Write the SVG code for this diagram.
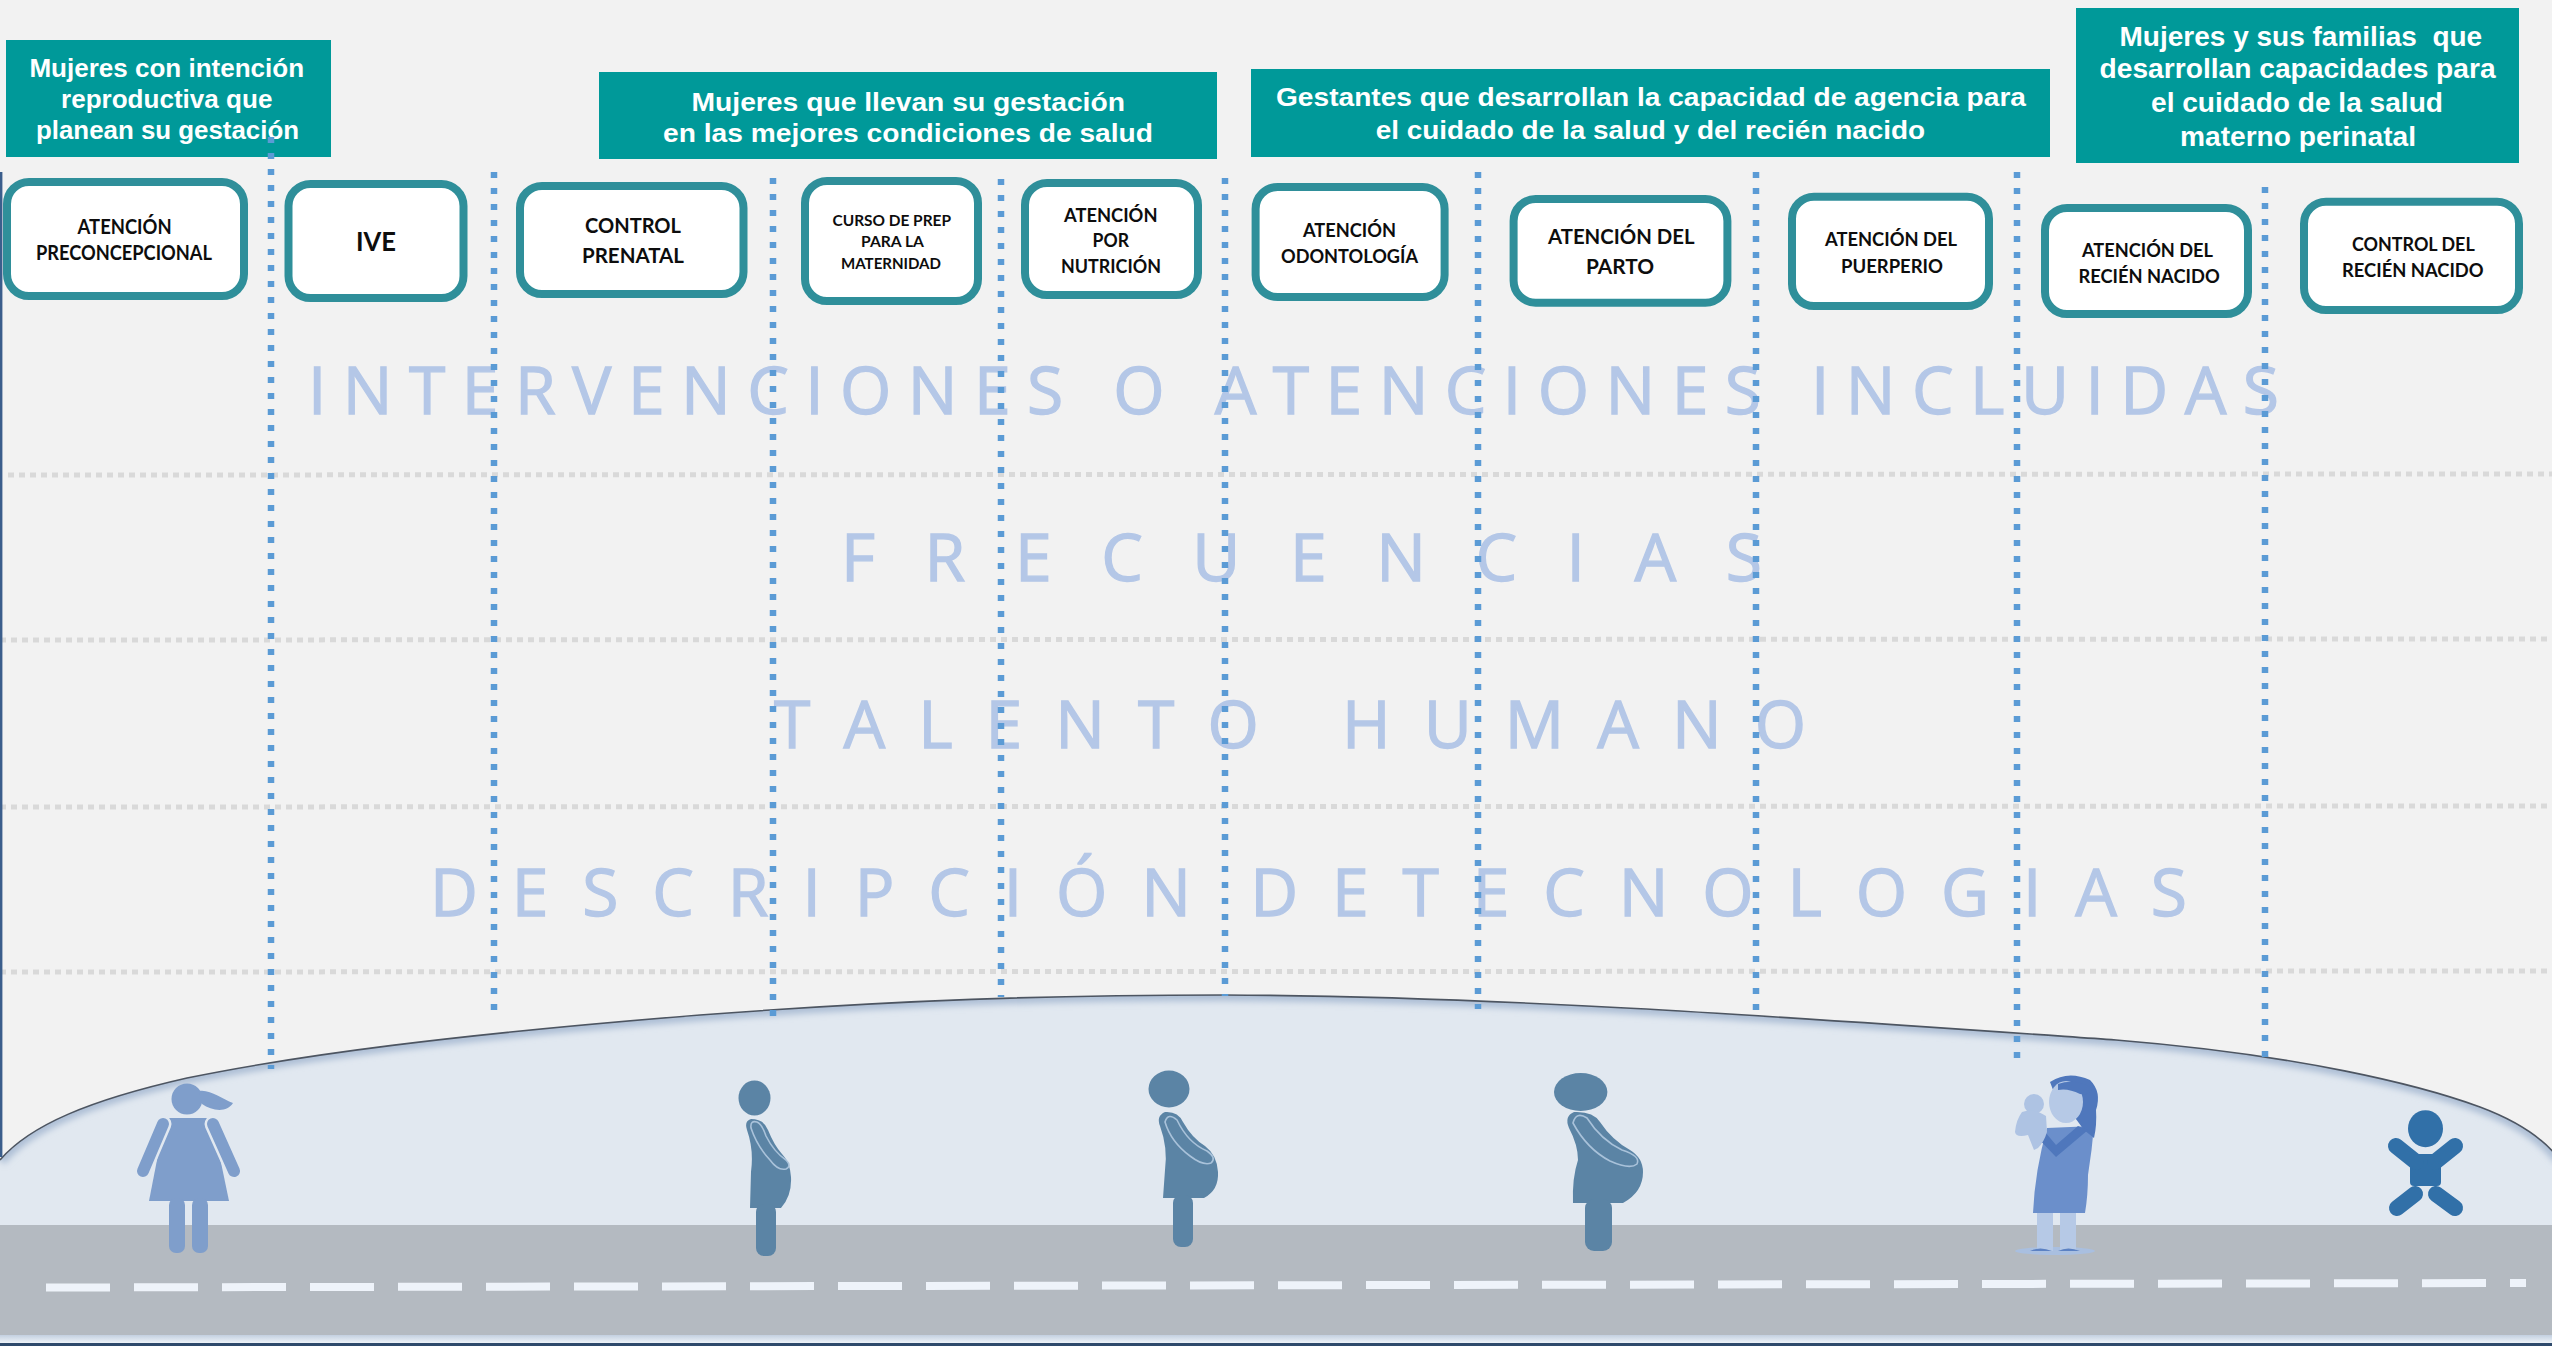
<svg xmlns="http://www.w3.org/2000/svg" width="2552" height="1346" viewBox="0 0 2552 1346">
  <style>
    .hdr { fill: #009999; }
    .hdr-t { font-family: "Liberation Sans", Arial, sans-serif; font-weight: bold; fill: #ffffff; white-space: pre; }
    .box { fill: #ffffff; stroke: #2f8f9a; stroke-width: 8; }
    .box-t { font-family: Lato, "Open Sans", "Liberation Sans", sans-serif; font-weight: bold; fill: #0d0d0d; }
    .wm { font-family: "Open Sans", "Liberation Sans", sans-serif; font-size: 66px; fill: #b4c7e7; stroke: #b4c7e7; stroke-width: 1.3; white-space: pre; }
    .vline { stroke: #5b9bd5; stroke-width: 6.5; stroke-dasharray: 6 10; fill: none; }
    .hline { stroke: #d9d9d9; stroke-width: 5; stroke-dasharray: 6 5; fill: none; }
    .fig-girl { fill: #7f9ecb; }
    .fig-preg { fill: #5b84a5; }
    .arm-line { fill: none; stroke: #a9c2da; stroke-width: 1.6; }
  </style>
  <defs>
    <clipPath id="moundClip">
      <path d="M0,1160 C30,1125 90,1100 187,1078 C300,1055 450,1035 700,1015 C900,1000 1050,995 1224,995 C1500,996 1800,1018 2116,1040 C2300,1055 2420,1085 2480,1107 C2520,1122 2545,1140 2560,1160 L2560,1346 L0,1346 Z"/>
    </clipPath>
    <filter id="soft" x="-5%" y="-50%" width="110%" height="200%">
      <feGaussianBlur stdDeviation="3"/>
    </filter>
    <linearGradient id="roadEdge" x1="0" y1="0" x2="0" y2="1">
      <stop offset="0" stop-color="#c3d0e0"/>
      <stop offset="1" stop-color="#eef3f9"/>
    </linearGradient>
  </defs>

  <!-- page background -->
  <rect x="0" y="0" width="2552" height="1346" fill="#f2f2f2"/>

  <!-- row separators -->
  <g id="rows">
    <line class="hline" x1="8" y1="475" x2="2552" y2="474"/>
    <line class="hline" x1="0" y1="640" x2="2552" y2="639"/>
    <line class="hline" x1="0" y1="807" x2="2552" y2="806"/>
    <line class="hline" x1="0" y1="972" x2="2552" y2="971"/>
  </g>

  <!-- row titles -->
  <g id="row-titles">
    <text class="wm" x="308" y="414" textLength="1971" lengthAdjust="spacing">INTERVENCIONES O ATENCIONES INCLUIDAS</text>
    <text class="wm" x="841" y="581" textLength="921" lengthAdjust="spacing">F R E C U E N C I A S</text>
    <text class="wm" x="774" y="748" textLength="1032" lengthAdjust="spacing">T A L E N T O   H U M A N O</text>
    <text class="wm" x="430" y="916" textLength="1757" lengthAdjust="spacing">D E S C R I P C I Ó N  D E T E C N O L O G I A S</text>
  </g>

  <!-- stage headers -->
  <g id="hdr-intencion">
    <rect class="hdr" x="6" y="40" width="325" height="117"/>
    <text class="hdr-t" font-size="25" x="29.4" y="77.3" textLength="274.7" lengthAdjust="spacingAndGlyphs">Mujeres con intención</text>
    <text class="hdr-t" font-size="25" x="61" y="108.3" textLength="211.4" lengthAdjust="spacingAndGlyphs">reproductiva que</text>
    <text class="hdr-t" font-size="25" x="36" y="139.3" textLength="263" lengthAdjust="spacingAndGlyphs">planean su gestación</text>
  </g>
  <g id="hdr-gestacion">
    <rect class="hdr" x="599" y="72" width="618" height="87"/>
    <text class="hdr-t" font-size="26" x="691.5" y="110.7" textLength="433.5" lengthAdjust="spacingAndGlyphs">Mujeres que llevan su gestación</text>
    <text class="hdr-t" font-size="26" x="663" y="141.7" textLength="490" lengthAdjust="spacingAndGlyphs">en las mejores condiciones de salud</text>
  </g>
  <g id="hdr-agencia">
    <rect class="hdr" x="1251" y="69" width="799" height="88"/>
    <text class="hdr-t" font-size="25.5" x="1276" y="105.5" textLength="750" lengthAdjust="spacingAndGlyphs">Gestantes que desarrollan la capacidad de agencia para</text>
    <text class="hdr-t" font-size="25.5" x="1375.7" y="138.7" textLength="549.5" lengthAdjust="spacingAndGlyphs">el cuidado de la salud y del recién nacido</text>
  </g>
  <g id="hdr-familias">
    <rect class="hdr" x="2076" y="8" width="443" height="155"/>
    <text class="hdr-t" font-size="27" x="2119.5" y="46" textLength="362.7" lengthAdjust="spacingAndGlyphs">Mujeres y sus familias  que</text>
    <text class="hdr-t" font-size="27" x="2099.6" y="78.3" textLength="396" lengthAdjust="spacingAndGlyphs">desarrollan capacidades para</text>
    <text class="hdr-t" font-size="27" x="2151" y="111.7" textLength="292" lengthAdjust="spacingAndGlyphs">el cuidado de la salud</text>
    <text class="hdr-t" font-size="27" x="2180" y="145.7" textLength="236" lengthAdjust="spacingAndGlyphs">materno perinatal</text>
  </g>

  <!-- care interventions -->
  <g id="n-preconcepcional">
    <rect class="box" x="7" y="182" width="237" height="114" rx="22"/>
    <text class="box-t" font-size="20" x="77.6" y="234.3" textLength="94" lengthAdjust="spacingAndGlyphs">ATENCIÓN</text>
    <text class="box-t" font-size="20" x="36" y="260" textLength="176" lengthAdjust="spacingAndGlyphs">PRECONCEPCIONAL</text>
  </g>
  <g id="n-ive">
    <rect class="box" x="288.5" y="184" width="175" height="114" rx="22"/>
    <text class="box-t" font-size="26.4" x="356" y="250.7" textLength="40" lengthAdjust="spacingAndGlyphs">IVE</text>
  </g>
  <g id="n-control-prenatal">
    <rect class="box" x="520" y="186" width="223.5" height="108" rx="22"/>
    <text class="box-t" font-size="20.8" x="585" y="233" textLength="96" lengthAdjust="spacingAndGlyphs">CONTROL</text>
    <text class="box-t" font-size="20.8" x="582" y="263" textLength="102" lengthAdjust="spacingAndGlyphs">PRENATAL</text>
  </g>
  <g id="n-curso">
    <rect class="box" x="805" y="181" width="173" height="120" rx="22"/>
    <text class="box-t" font-size="15.3" x="832.5" y="226" textLength="118.5" lengthAdjust="spacingAndGlyphs">CURSO DE PREP</text>
    <text class="box-t" font-size="15.3" x="861" y="247.3" textLength="63" lengthAdjust="spacingAndGlyphs">PARA LA</text>
    <text class="box-t" font-size="15.3" x="841" y="269.3" textLength="100" lengthAdjust="spacingAndGlyphs">MATERNIDAD</text>
  </g>
  <g id="n-nutricion">
    <rect class="box" x="1025" y="183" width="173" height="112" rx="22"/>
    <text class="box-t" font-size="18.5" x="1064" y="221.7" textLength="93.5" lengthAdjust="spacingAndGlyphs">ATENCIÓN</text>
    <text class="box-t" font-size="18.5" x="1092.6" y="247.3" textLength="36.4" lengthAdjust="spacingAndGlyphs">POR</text>
    <text class="box-t" font-size="18.5" x="1061" y="273.3" textLength="100" lengthAdjust="spacingAndGlyphs">NUTRICIÓN</text>
  </g>
  <g id="n-odontologia">
    <rect class="box" x="1255.6" y="187" width="189" height="110" rx="22"/>
    <text class="box-t" font-size="18.5" x="1303" y="236.7" textLength="93" lengthAdjust="spacingAndGlyphs">ATENCIÓN</text>
    <text class="box-t" font-size="18.5" x="1281" y="262.7" textLength="137" lengthAdjust="spacingAndGlyphs">ODONTOLOGÍA</text>
  </g>
  <g id="n-parto">
    <rect class="box" x="1513.6" y="199" width="213.8" height="103.7" rx="22"/>
    <text class="box-t" font-size="20.8" x="1548" y="244" textLength="146.5" lengthAdjust="spacingAndGlyphs">ATENCIÓN DEL</text>
    <text class="box-t" font-size="20.8" x="1586" y="274.3" textLength="68" lengthAdjust="spacingAndGlyphs">PARTO</text>
  </g>
  <g id="n-puerperio">
    <rect class="box" x="1792" y="196.7" width="197" height="109.3" rx="22"/>
    <text class="box-t" font-size="19" x="1825" y="246" textLength="132" lengthAdjust="spacingAndGlyphs">ATENCIÓN DEL</text>
    <text class="box-t" font-size="19" x="1841" y="272.7" textLength="102" lengthAdjust="spacingAndGlyphs">PUERPERIO</text>
  </g>
  <g id="n-atencion-rn">
    <rect class="box" x="2045" y="208" width="203" height="106" rx="22"/>
    <text class="box-t" font-size="18.5" x="2082" y="256.7" textLength="131" lengthAdjust="spacingAndGlyphs">ATENCIÓN DEL</text>
    <text class="box-t" font-size="18.5" x="2078.4" y="282.7" textLength="141.3" lengthAdjust="spacingAndGlyphs">RECIÉN NACIDO</text>
  </g>
  <g id="n-control-rn">
    <rect class="box" x="2304" y="201.7" width="215" height="108.3" rx="22"/>
    <text class="box-t" font-size="18.5" x="2352" y="250.7" textLength="122.7" lengthAdjust="spacingAndGlyphs">CONTROL DEL</text>
    <text class="box-t" font-size="18.5" x="2342" y="276.7" textLength="141.6" lengthAdjust="spacingAndGlyphs">RECIÉN NACIDO</text>
  </g>

  <!-- ground: hill, road and lane marks -->
  <g id="ground">
    <path d="M0,1160 C30,1125 90,1100 187,1078 C300,1055 450,1035 700,1015 C900,1000 1050,995 1224,995 C1500,996 1800,1018 2116,1040 C2300,1055 2420,1085 2480,1107 C2520,1122 2545,1140 2560,1160 L2560,1346 L0,1346 Z" fill="#e1e8f0"/>
    <g clip-path="url(#moundClip)">
      <path d="M0,1160 C30,1125 90,1100 187,1078 C300,1055 450,1035 700,1015 C900,1000 1050,995 1224,995 C1500,996 1800,1018 2116,1040 C2300,1055 2420,1085 2480,1107 C2520,1122 2545,1140 2560,1160" fill="none" stroke="#aebfd6" stroke-width="12" filter="url(#soft)"/>
    </g>
    <path d="M0,1160 C30,1125 90,1100 187,1078 C300,1055 450,1035 700,1015 C900,1000 1050,995 1224,995 C1500,996 1800,1018 2116,1040 C2300,1055 2420,1085 2480,1107 C2520,1122 2545,1140 2560,1160" fill="none" stroke="#4d5561" stroke-width="1.6"/>
    <rect x="0" y="1225" width="2552" height="110" fill="#b4bac1"/>
    <rect x="0" y="1335" width="2552" height="8" fill="url(#roadEdge)"/>
    <rect x="0" y="1343" width="2552" height="3" fill="#2f4a6c"/>
    <line x1="46" y1="1287.5" x2="2526" y2="1283" stroke="#eef3fa" stroke-width="8" stroke-dasharray="64 24"/>
  </g>

  <!-- stage dividers -->
  <g id="connectors">
    <line x1="1.2" y1="172" x2="1.2" y2="1157" stroke="#3b5e8c" stroke-width="2.4"/>
    <line class="vline" x1="271" y1="137" x2="271" y2="1069"/>
    <line class="vline" x1="494" y1="172" x2="494" y2="1019"/>
    <line class="vline" x1="773" y1="178" x2="773" y2="1017"/>
    <line class="vline" x1="1001" y1="179" x2="1001" y2="997"/>
    <line class="vline" x1="1225" y1="178" x2="1225" y2="996"/>
    <line class="vline" x1="1478" y1="172" x2="1478" y2="1009"/>
    <line class="vline" x1="1756" y1="172" x2="1756" y2="1020"/>
    <line class="vline" x1="2017" y1="172" x2="2017" y2="1068"/>
    <line class="vline" x1="2265" y1="187" x2="2265" y2="1058"/>
  </g>

  <!-- figures along the road -->
  <g id="fig-girl" class="fig-girl">
    <circle cx="187" cy="1099" r="15.5"/>
    <path d="M199,1091 C210,1089 222,1099 233,1103 C227,1113 212,1111 202,1104 Z"/>
    <path d="M170,1118 L206,1118 Q211,1118 213,1124 L229,1201 L149,1201 L164,1124 Q166,1118 170,1118 Z"/>
    <path d="M163,1124 L143,1171 M213,1124 L234,1171" fill="none" stroke="#e1e8f0" stroke-width="17" stroke-linecap="round"/>
    <path d="M163,1124 L143,1171 M213,1124 L234,1171" fill="none" stroke="#7f9ecb" stroke-width="12" stroke-linecap="round"/>
    <rect x="169" y="1198" width="16" height="55" rx="7"/>
    <rect x="192" y="1198" width="16" height="55" rx="7"/>
  </g>

  <g id="fig-pregnant-1" class="fig-preg">
    <ellipse cx="754.5" cy="1098" rx="16" ry="17.5"/>
    <path d="M751,1119 Q744,1121 747,1130 Q754,1150 751,1172 L750,1208 L781,1208 Q792,1196 791,1177 Q790,1162 782,1154 Q774,1145 768,1130 Q764,1119 751,1119 Z"/>
    <rect x="756" y="1204" width="20" height="52" rx="8"/>
    <path class="arm-line" d="M751,1128 Q750,1120 757,1122 Q762,1124 766,1136 Q774,1152 786,1160 Q792,1166 786,1169 Q778,1171 770,1160 Q757,1146 751,1128 Z"/>
  </g>

  <g id="fig-pregnant-2" class="fig-preg">
    <ellipse cx="1169" cy="1089" rx="20.5" ry="18.5"/>
    <path d="M1165,1112 Q1156,1116 1160,1126 Q1168,1148 1165,1170 L1163,1198 L1204,1198 Q1219,1190 1218,1172 Q1217,1155 1205,1146 Q1192,1138 1183,1122 Q1178,1111 1165,1112 Z"/>
    <rect x="1173" y="1195" width="20" height="52" rx="8"/>
    <path class="arm-line" d="M1165,1122 Q1168,1112 1177,1120 Q1188,1143 1207,1151 Q1217,1158 1211,1163 Q1203,1166 1190,1156 Q1171,1142 1165,1122 Z"/>
  </g>

  <g id="fig-pregnant-3" class="fig-preg">
    <ellipse cx="1580.7" cy="1092" rx="26.7" ry="19"/>
    <path d="M1574,1112 Q1564,1116 1569,1128 Q1578,1145 1578,1160 Q1572,1178 1573,1203 L1623,1203 Q1643,1192 1643,1172 Q1643,1158 1630,1150 Q1612,1140 1600,1122 Q1593,1111 1574,1112 Z"/>
    <rect x="1585" y="1199" width="27" height="52" rx="9"/>
    <path class="arm-line" d="M1573,1123 Q1576,1111 1587,1118 Q1601,1140 1622,1150 Q1641,1156 1637,1164 Q1630,1170 1610,1161 Q1587,1149 1573,1123 Z"/>
  </g>

  <g id="fig-mother">
    <ellipse cx="2055" cy="1251" rx="40" ry="4" fill="#a9bfe0"/>
    <rect x="2037" y="1208" width="16" height="43" fill="#b6c9e6"/>
    <rect x="2060" y="1208" width="16" height="43" fill="#b6c9e6"/>
    <path d="M2030,1251 Q2040,1246 2052,1251 Z M2058,1251 Q2068,1246 2080,1251 Z" fill="#5c82c4"/>
    <path d="M2047,1128 L2094,1126 Q2092,1150 2088,1175 Q2088,1195 2085,1213 L2033,1213 Q2035,1170 2047,1128 Z" fill="#6b8fcb"/>
    <path d="M2050,1082 Q2068,1070 2090,1080 Q2102,1092 2096,1110 Q2097,1125 2094,1138 L2084,1130 Q2070,1110 2055,1095 Z" fill="#4f77bc"/>
    <ellipse cx="2066" cy="1102" rx="17" ry="21" fill="#b6c9e6"/>
    <path d="M2058,1084 Q2075,1078 2092,1088 Q2090,1096 2080,1094 Q2068,1088 2058,1090 Z" fill="#4f77bc"/>
    <path d="M2031,1131 L2056,1157 L2088,1130 L2078,1126 L2056,1145 L2040,1126 Z" fill="#4f77bc"/>
    <circle cx="2034" cy="1104" r="10" fill="#aec3e3"/>
    <path d="M2022,1112 Q2034,1108 2046,1116 L2047,1132 Q2044,1142 2038,1148 L2034,1150 Q2030,1140 2028,1135 Q2016,1138 2015,1132 Q2016,1120 2022,1112 Z" fill="#aec3e3"/>
  </g>

  <g id="fig-baby" fill="#3170a8">
    <ellipse cx="2425.5" cy="1128.7" rx="17.5" ry="18.5"/>
    <rect x="2410" y="1154" width="31" height="32" rx="4"/>
    <path d="M2416,1162 L2396,1146 M2435,1162 L2455,1146 M2415,1194 L2397,1208 M2436,1194 L2455,1208" fill="none" stroke="#3170a8" stroke-width="16" stroke-linecap="round"/>
  </g>
</svg>
